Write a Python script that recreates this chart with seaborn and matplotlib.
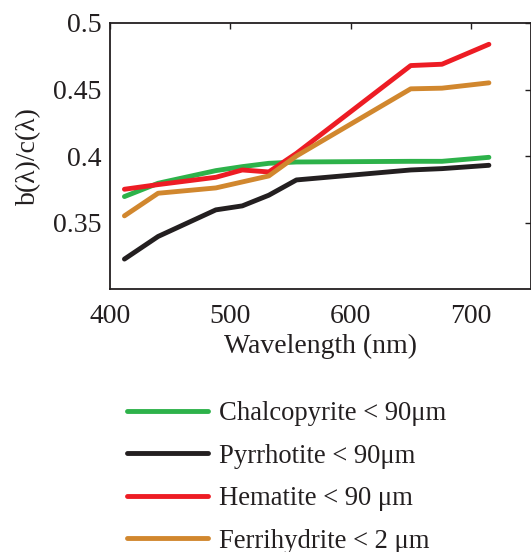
import seaborn as sns
import matplotlib.pyplot as plt
import pandas as pd

wavelength = [412, 440, 488, 510, 532, 555, 650, 676, 715]

chalcopyrite = [0.3695, 0.3795, 0.389, 0.392, 0.3945, 0.3955, 0.396, 0.396, 0.399]
pyrrhotite = [0.3225, 0.3395, 0.3595, 0.3625, 0.3705, 0.382, 0.3895, 0.3905, 0.393]
hematite = [0.375, 0.3785, 0.384, 0.3895, 0.388, 0.402, 0.468, 0.469, 0.484]
ferrihydrite = [0.355, 0.372, 0.376, 0.3805, 0.385, 0.400, 0.4505, 0.451, 0.455]

labels = ['Chalcopyrite < 90μm', 'Pyrrhotite < 90μm',
          'Hematite < 90 μm', 'Ferrihydrite < 2 μm']
colors = ['#2DB24A', '#231F20', '#ED1C24', '#D1872E']

frames = []
for name, vals in zip(labels, [chalcopyrite, pyrrhotite, hematite, ferrihydrite]):
    frames.append(pd.DataFrame({'wavelength': wavelength, 'ratio': vals, 'sample': name}))
df = pd.concat(frames, ignore_index=True)

sns.set_style('white')
plt.rcParams['font.family'] = ['Liberation Serif', 'DejaVu Serif']

fig = plt.figure(figsize=(5.31, 5.52), dpi=100)
ax = fig.add_axes([110 / 531, 1 - 289 / 552, 421 / 531, 266 / 552])

sns.lineplot(data=df, x='wavelength', y='ratio', hue='sample', hue_order=labels,
             palette=colors, linewidth=3.5, ax=ax, legend=False)

ax.set_xlim(400, 750)
ax.set_ylim(0.3, 0.5)
ax.set_xticks([400, 500, 600, 700])
ax.set_yticks([0.35, 0.4, 0.45, 0.5])
ax.set_yticklabels(['0.35', '0.4', '0.45', '0.5'])
ax.tick_params(direction='in', length=4, width=1, labelsize=20, colors='#231F20',
               top=True, right=True)
ax.tick_params(axis='x', pad=11)
ax.tick_params(axis='y', pad=6)
for s in ax.spines.values():
    s.set_color('#231F20')
    s.set_linewidth(1.3)
ax.set_xlabel('Wavelength (nm)', fontsize=20, color='#231F20', labelpad=3)
ax.set_ylabel('b(λ)/c(λ)', fontsize=20, color='#231F20', labelpad=9)

handles = [plt.Line2D([], [], color=c, lw=3.5) for c in colors]
fig.legend(handles, labels, loc='upper left', bbox_to_anchor=(127 / 531, 1 - 401 / 552),
           frameon=False, fontsize=19.2, handlelength=3.05, handletextpad=0.4,
           borderpad=0, borderaxespad=0, labelspacing=0.66, labelcolor='#231F20')

fig.savefig('out.png', dpi=100)
